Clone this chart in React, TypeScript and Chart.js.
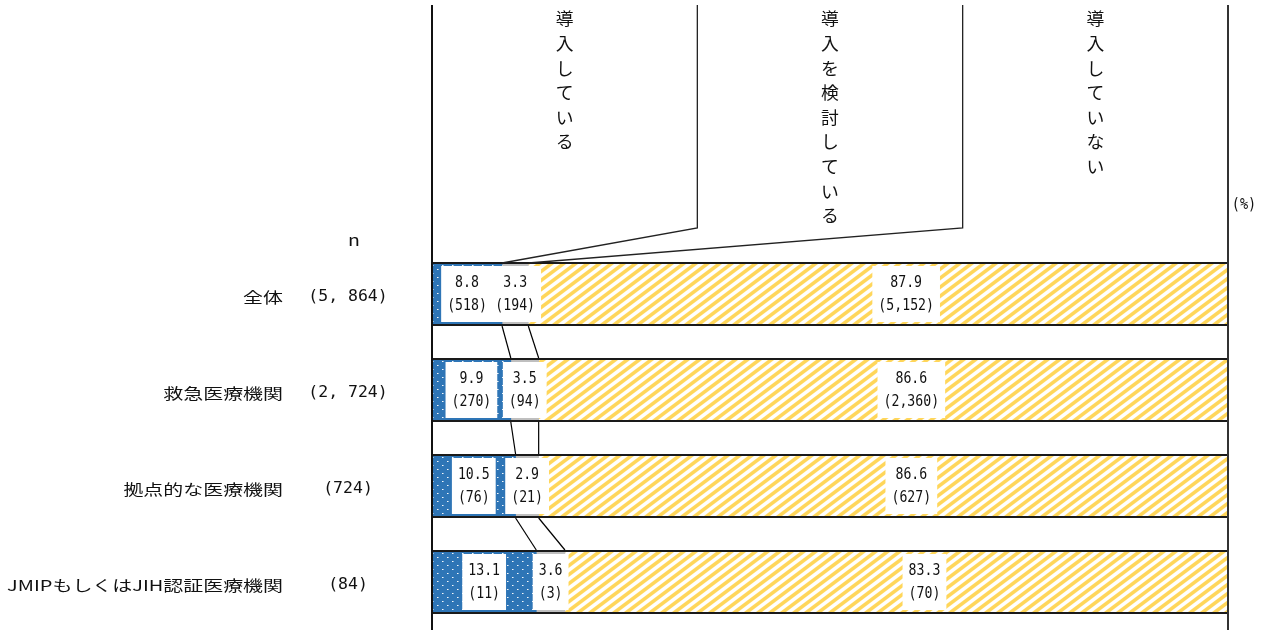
import React, { useEffect, useRef } from 'react';
import { Chart, registerables } from 'chart.js';

Chart.register(...registerables);

const categories = ['全体', '救急医療機関', '拠点的な医療機関', 'JMIPもしくはJIH認証医療機関'];
const sampleSizes = ['(5, 864)', '(2, 724)', '(724)', '(84)'];
const seriesNames = ['導入している', '導入を検討している', '導入していない'];
const introduced = [8.8, 9.9, 10.5, 13.1];
const considering = [3.3, 3.5, 2.9, 3.6];
const notIntroduced = [87.9, 86.6, 86.6, 83.3];
const introducedN = ['(518)', '(270)', '(76)', '(11)'];
const consideringN = ['(194)', '(94)', '(21)', '(3)'];
const notIntroducedN = ['(5,152)', '(2,360)', '(627)', '(70)'];
const seriesCounts = [introducedN, consideringN, notIntroducedN];

const JP = '"Noto Sans CJK JP", "Noto Sans", sans-serif';
const MONO = '"DejaVu Sans Mono", "Liberation Mono", monospace';

function makeDotPattern(): CanvasPattern | string {
  const c = document.createElement('canvas');
  c.width = 10;
  c.height = 8;
  const g = c.getContext('2d');
  if (!g) return '#2E75B6';
  g.fillStyle = '#2E75B6';
  g.fillRect(0, 0, 10, 8);
  g.fillStyle = 'rgba(255,255,255,0.95)';
  g.fillRect(2, 1, 1, 1);
  g.fillStyle = 'rgba(255,255,255,0.5)';
  g.fillRect(3, 1, 1, 1);
  g.fillStyle = 'rgba(255,255,255,0.95)';
  g.fillRect(7, 5, 1, 1);
  g.fillStyle = 'rgba(255,255,255,0.5)';
  g.fillRect(8, 5, 1, 1);
  return g.createPattern(c, 'repeat') || '#2E75B6';
}

function makeStripePattern(): CanvasPattern | string {
  const w = 12;
  const h = 9;
  const c = document.createElement('canvas');
  c.width = w;
  c.height = h;
  const g = c.getContext('2d');
  if (!g) return '#FFD966';
  const img = g.createImageData(w, h);
  const Y = [255, 214, 90];
  for (let y = 0; y < h; y++) {
    for (let x = 0; x < w; x++) {
      let cov = 0;
      for (let sy = 0; sy < 4; sy++) {
        for (let sx = 0; sx < 4; sx++) {
          const px = x + (sx + 0.5) / 4;
          const py = y + (sy + 0.5) / 4;
          const phase = (((px + (py * w) / h) % w) + w) % w;
          if (phase < w * 0.5) cov++;
        }
      }
      cov /= 16;
      const i = (y * w + x) * 4;
      img.data[i] = Math.round(255 * (1 - cov) + Y[0] * cov);
      img.data[i + 1] = Math.round(255 * (1 - cov) + Y[1] * cov);
      img.data[i + 2] = Math.round(255 * (1 - cov) + Y[2] * cov);
      img.data[i + 3] = 255;
    }
  }
  g.putImageData(img, 0, 0);
  return g.createPattern(c, 'repeat') || '#FFD966';
}

function drawText(
  ctx: CanvasRenderingContext2D,
  text: string,
  x: number,
  y: number,
  font: string,
  align: CanvasTextAlign,
  sx = 1,
  color = '#000'
) {
  ctx.save();
  ctx.font = font;
  ctx.fillStyle = color;
  ctx.textAlign = align;
  ctx.textBaseline = 'middle';
  ctx.translate(x, y);
  ctx.scale(sx, 1);
  ctx.fillText(text, 0, 0);
  ctx.restore();
}

const overlayPlugin = {
  id: 'overlay',
  afterDatasetsDraw(chart: any) {
    const ctx: CanvasRenderingContext2D = chart.ctx;
    const area = chart.chartArea;
    const metas = [0, 1, 2].map((i) => chart.getDatasetMeta(i));
    const bars0 = metas[0].data;
    const n = bars0.length;

    // bar top/bottom lines
    ctx.save();
    ctx.strokeStyle = '#1a1a1a';
    ctx.lineWidth = 2;
    for (let j = 0; j < n; j++) {
      const b = bars0[j].getProps(['y', 'height'], true);
      const top = b.y - b.height / 2;
      const bot = b.y + b.height / 2;
      ctx.beginPath();
      ctx.moveTo(area.left, top);
      ctx.lineTo(area.right, top);
      ctx.moveTo(area.left, bot);
      ctx.lineTo(area.right, bot);
      ctx.stroke();
    }
    ctx.restore();

    // connector (series) lines between bars
    ctx.save();
    ctx.strokeStyle = '#000';
    ctx.lineWidth = 1.2;
    for (let j = 0; j < n - 1; j++) {
      for (let k = 0; k < 2; k++) {
        const a = metas[k].data[j].getProps(['x', 'y', 'height'], true);
        const b = metas[k].data[j + 1].getProps(['x', 'y', 'height'], true);
        ctx.beginPath();
        ctx.moveTo(a.x, a.y + a.height / 2 + 1);
        ctx.lineTo(b.x, b.y - b.height / 2 - 1);
        ctx.stroke();
      }
    }
    ctx.restore();

    // data labels with white boxes
    const labelFont = `15px ${MONO}`;
    const lsx = 0.88;
    for (let k = 0; k < 3; k++) {
      const vals = chart.data.datasets[k].data as number[];
      for (let j = 0; j < n; j++) {
        const el = metas[k].data[j].getProps(['x', 'y', 'base', 'height'], true);
        let cx = (el.x + el.base) / 2;
        if (k === 2) cx += 28;
        const v = vals[j].toFixed(1);
        const c = seriesCounts[k][j];
        ctx.save();
        ctx.font = labelFont;
        const tw = Math.max(ctx.measureText(v).width, ctx.measureText(c).width) * lsx;
        ctx.restore();
        const pad = 6;
        const top = el.y - el.height / 2 + 3;
        const bot = el.y + el.height / 2 - 3;
        ctx.save();
        ctx.fillStyle = '#fff';
        ctx.fillRect(cx - tw / 2 - pad, top, tw + pad * 2, bot - top);
        ctx.restore();
        drawText(ctx, v, cx, el.y - 11, labelFont, 'center', lsx, '#111');
        drawText(ctx, c, cx, el.y + 12, labelFont, 'center', lsx, '#111');
      }
    }

    // left / right frame lines
    ctx.save();
    ctx.strokeStyle = '#111';
    ctx.lineWidth = 2;
    ctx.beginPath();
    ctx.moveTo(area.left, 5);
    ctx.lineTo(area.left, chart.height);
    ctx.stroke();
    ctx.strokeStyle = '#333';
    ctx.beginPath();
    ctx.moveTo(area.right, 5);
    ctx.lineTo(area.right, chart.height);
    ctx.stroke();
    ctx.restore();

    // legend region leader lines
    const w = area.right - area.left;
    const firstBar = bars0[0].getProps(['y', 'height'], true);
    const firstTop = firstBar.y - firstBar.height / 2;
    ctx.save();
    ctx.strokeStyle = '#222';
    ctx.lineWidth = 1.3;
    for (let k = 0; k < 2; k++) {
      const bx = area.left + (w * (k + 1)) / 3;
      const end = metas[k].data[0].getProps(['x'], true);
      ctx.beginPath();
      ctx.moveTo(bx, 5);
      ctx.lineTo(bx, 228);
      ctx.lineTo(end.x, firstTop);
      ctx.stroke();
    }
    ctx.restore();

    // vertical legend text
    for (let k = 0; k < 3; k++) {
      const cx = area.left + (w * (2 * k + 1)) / 6;
      const chars = Array.from(seriesNames[k]);
      chars.forEach((ch, i) => {
        drawText(ctx, ch, cx, 19 + i * 24.6, `17px ${JP}`, 'center', 1.05, '#111');
      });
    }

    // category + n labels
    for (let j = 0; j < n; j++) {
      const b = bars0[j].getProps(['y'], true);
      drawText(ctx, categories[j], 283, b.y + 3, `15px ${JP}`, 'right', 1.33, '#111');
      drawText(ctx, sampleSizes[j], 348, b.y + 3, `15px ${MONO}`, 'center', 1.1, '#111');
    }
    drawText(ctx, 'n', 354, 240, `15px ${JP}`, 'center', 1.3, '#111');
    drawText(ctx, '(%)', 1244, 205, `15px ${MONO}`, 'center', 0.9, '#111');
  },
};

export default function App() {
  const ref = useRef<HTMLCanvasElement | null>(null);
  useEffect(() => {
    if (!ref.current) return;
    const chart = new Chart(ref.current, {
      type: 'bar',
      data: {
        labels: categories,
        datasets: [
          { label: seriesNames[0], data: introduced, backgroundColor: makeDotPattern() as any, borderWidth: 0, barThickness: 62 },
          { label: seriesNames[1], data: considering, backgroundColor: '#BFBFBF', borderWidth: 0, barThickness: 62 },
          { label: seriesNames[2], data: notIntroduced, backgroundColor: makeStripePattern() as any, borderWidth: 0, barThickness: 62 },
        ],
      },
      options: {
        indexAxis: 'y',
        responsive: false,
        animation: false,
        devicePixelRatio: 1,
        layout: { padding: { left: 432, right: 40, top: 246, bottom: 0 } },
        scales: {
          x: { stacked: true, min: 0, max: 100, display: false },
          y: { stacked: true, display: false },
        },
        plugins: {
          legend: { display: false },
          tooltip: { enabled: false },
        },
      },
      plugins: [overlayPlugin],
    });
    return () => chart.destroy();
  }, []);
  return (
    <div style={{ position: 'absolute', left: 0, top: 0, width: 1268, height: 630, background: '#fff' }}>
      <canvas ref={ref} width={1268} height={630} style={{ display: 'block' }} />
    </div>
  );
}
